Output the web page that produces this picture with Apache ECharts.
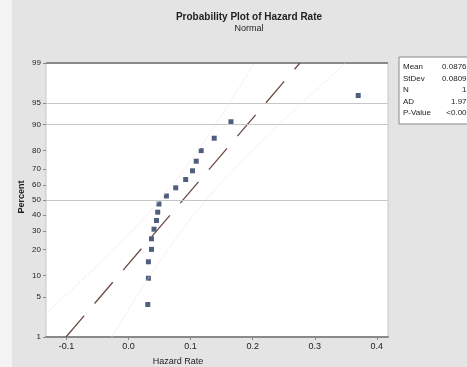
<!DOCTYPE html>
<html>
<head>
<meta charset="utf-8">
<script src="https://cdn.jsdelivr.net/npm/echarts@6/dist/echarts.min.js"></script>
<style>html,body{margin:0;padding:0;background:#fff}#c{width:467px;height:367px}</style>
</head>
<body>
<div id="c"></div>
<script>
// ---- data ----
var hazardRate = [0.031, 0.032, 0.032, 0.037, 0.037, 0.041, 0.045, 0.047, 0.049, 0.061, 0.076, 0.092, 0.103, 0.109, 0.117, 0.138, 0.165, 0.370];
var percentRank = [3.8, 9.2, 14.7, 20.1, 25.5, 31.0, 36.4, 41.8, 47.3, 52.7, 58.2, 63.6, 69.0, 74.5, 79.9, 85.3, 90.8, 96.2];
var percentTicks = [1, 5, 10, 20, 30, 40, 50, 60, 70, 80, 90, 95, 99];
var xTicks = [-0.1, 0.0, 0.1, 0.2, 0.3, 0.4];
var statNames = ['Mean', 'StDev', 'N', 'AD', 'P-Value'];
var statValues = ['0.08766', '0.08098', '18', '1.971', '<0.005'];
var fitMean = 0.08766, fitSd = 0.08098, fitN = 18;

// inverse normal CDF (probability-axis scale)
function invNorm(p) {
  var a = [-3.969683028665376e+01, 2.209460984245205e+02, -2.759285104469687e+02, 1.383577518672690e+02, -3.066479806614716e+01, 2.506628277459239e+00];
  var b = [-5.447609879822406e+01, 1.615858368580409e+02, -1.556989798598866e+02, 6.680131188771972e+01, -1.328068155288572e+01];
  var c = [-7.784894002430293e-03, -3.223964580411365e-01, -2.400758277161838e+00, -2.549732539343734e+00, 4.374664141464968e+00, 2.938163982698783e+00];
  var d = [7.784695709041462e-03, 3.224671290700398e-01, 2.445134137142996e+00, 3.754408661907416e+00];
  var pl = 0.02425, q, r;
  if (p < pl) { q = Math.sqrt(-2 * Math.log(p)); return (((((c[0]*q+c[1])*q+c[2])*q+c[3])*q+c[4])*q+c[5]) / ((((d[0]*q+d[1])*q+d[2])*q+d[3])*q+1); }
  if (p > 1 - pl) { q = Math.sqrt(-2 * Math.log(1 - p)); return -(((((c[0]*q+c[1])*q+c[2])*q+c[3])*q+c[4])*q+c[5]) / ((((d[0]*q+d[1])*q+d[2])*q+d[3])*q+1); }
  q = p - 0.5; r = q * q;
  return (((((a[0]*r+a[1])*r+a[2])*r+a[3])*r+a[4])*r+a[5])*q / (((((b[0]*r+b[1])*r+b[2])*r+b[3])*r+b[4])*r+1);
}
var zTicks = percentTicks.map(function (p) { return invNorm(p / 100); });
var zMin = invNorm(0.01), zMax = invNorm(0.99);

var pts = hazardRate.map(function (v, i) { return [v, invNorm(percentRank[i] / 100)]; });
var fitLine = [[fitMean + fitSd * zMin, zMin], [fitMean + fitSd * zMax, zMax]];
var ciLo = [], ciHi = [];
zTicks.forEach(function (z) {
  var se = fitSd * Math.sqrt(1 / fitN + z * z / (2 * (fitN - 1)));
  ciLo.push([fitMean + fitSd * z - 1.96 * se, z]);
  ciHi.push([fitMean + fitSd * z + 1.96 * se, z]);
});
function pctLabel(v) {
  for (var i = 0; i < zTicks.length; i++) if (Math.abs(zTicks[i] - v) < 1e-6) return String(percentTicks[i]);
  return '';
}
var FONT = '"Liberation Sans", Arial, sans-serif';
var hLines = [95, 90, 50].map(function (p) { return { yAxis: invNorm(p / 100) }; });

var legendEls = [{ type: 'rect', shape: { x: 399, y: 57, width: 80, height: 67 }, style: { fill: '#fff', stroke: '#888', lineWidth: 1 } }];
statNames.forEach(function (n, i) {
  legendEls.push({ type: 'text', x: 403, y: 67 + i * 11.5, style: { text: n, fontSize: 8, fontFamily: FONT, fill: '#222', verticalAlign: 'middle' } });
  legendEls.push({ type: 'text', x: 471, y: 67 + i * 11.5, style: { text: statValues[i], fontSize: 8, fontFamily: FONT, fill: '#222', align: 'right', verticalAlign: 'middle' } });
});

var chart = echarts.init(document.getElementById('c'), null, { renderer: 'canvas' });
chart.setOption({
  backgroundColor: '#e4e4e4',
  animation: false,
  title: {
    text: 'Probability Plot of Hazard Rate', subtext: 'Normal',
    left: 244, top: 7, textAlign: 'center', itemGap: 2,
    textStyle: { fontSize: 10, fontWeight: 'bold', color: '#222', fontFamily: FONT },
    subtextStyle: { fontSize: 9, color: '#222', fontFamily: FONT }
  },
  grid: { left: 46, right: 79, top: 63, bottom: 30, show: true, backgroundColor: '#fff', borderColor: '#c8c8c8', borderWidth: 1 },
  xAxis: {
    type: 'value', min: -0.133, max: 0.418,
    axisLine: { show: true, onZero: false, lineStyle: { color: '#8a8a8a', width: 2 } },
    axisTick: { show: true, customValues: xTicks, length: 3, lineStyle: { color: '#8a8a8a' } },
    axisLabel: { customValues: xTicks, fontSize: 9, color: '#222', fontFamily: FONT, margin: 5,
      formatter: function (v) { return v.toFixed(1); } },
    splitLine: { show: false }
  },
  yAxis: {
    type: 'value', min: zMin, max: zMax, position: 'left',
    axisLine: { show: false, onZero: false },
    axisTick: { show: true, customValues: zTicks, length: 3, lineStyle: { color: '#8a8a8a' } },
    axisLabel: { customValues: zTicks, fontSize: 8, color: '#222', fontFamily: FONT, margin: 5, formatter: pctLabel },
    splitLine: { show: false }
  },
  graphic: [
    { type: 'rect', shape: { x: 0, y: 0, width: 12, height: 367 }, style: { fill: '#f3f3f3' } },
    { type: 'line', shape: { x1: 46, y1: 63, x2: 388, y2: 63 }, style: { stroke: '#8a8a8a', lineWidth: 2 } },
    { type: 'text', x: 178, y: 362, style: { text: 'Hazard Rate', fontSize: 9, fontFamily: FONT, fill: '#222', align: 'center', verticalAlign: 'middle' } },
    { type: 'text', x: 22, y: 197, rotation: Math.PI / 2, style: { text: 'Percent', fontSize: 9, fontWeight: 'bold', fontFamily: FONT, fill: '#222', align: 'center', verticalAlign: 'middle' } },
    { type: 'group', children: legendEls }
  ],
  series: [
    { type: 'line', data: [], silent: true,
      markLine: { silent: true, symbol: 'none', label: { show: false }, lineStyle: { color: '#c6c6c6', type: 'solid', width: 1 }, data: hLines } },
    { type: 'line', data: ciLo, symbol: 'none', smooth: true, silent: true, lineStyle: { color: '#f6e0d4', width: 1, type: 'dotted' } },
    { type: 'line', data: ciHi, symbol: 'none', smooth: true, silent: true, lineStyle: { color: '#f6e0d4', width: 1, type: 'dotted' } },
    { type: 'line', data: fitLine, symbol: 'none', silent: true, lineStyle: { color: '#6e4a44', width: 1.3, type: [28, 16] } },
    { type: 'scatter', data: pts, symbol: 'rect', symbolSize: 5, itemStyle: { color: '#23345e' } }
  ]
});
</script>
</body>
</html>
